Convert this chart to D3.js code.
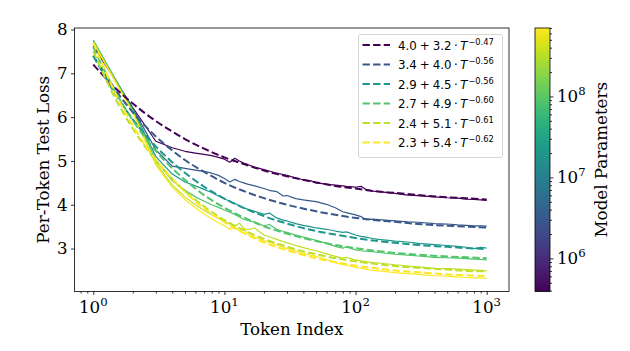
<!DOCTYPE html>
<html>
<head>
<meta charset="utf-8">
<script src="https://cdn.jsdelivr.net/npm/d3@7"></script>
<style>
  body { margin: 0; background: #fff; }
  svg { display: block; }
  text { fill: #000; }
</style>
</head>
<body>
<div id="chart"></div>
<script>
var svgWidth = 630;
var svgHeight = 351;

// per-token loss, measured (solid lines)
var tokens = [1, 2, 3, 4, 5, 6, 7, 8, 9, 10, 11, 12, 13, 14, 15, 17, 20, 22, 25, 28, 30, 35, 40, 45, 50,
  60, 70, 80, 85, 100, 110, 120, 135, 150, 200, 250, 300, 400, 500, 600, 700, 800, 900, 1000];

var lossP1 = [7.62, 6.22, 5.45, 5.30, 5.22, 5.18, 5.15, 5.12, 5.08, 5.04, 4.97, 5.06, 5.00, 4.95, 4.92, 4.86, 4.80, 4.77, 4.72, 4.69, 4.67, 4.61, 4.57, 4.55, 4.50,
  4.47, 4.45, 4.43, 4.42, 4.40, 4.42, 4.35, 4.31, 4.30, 4.26, 4.22, 4.21, 4.18, 4.16, 4.15, 4.13, 4.12, 4.11, 4.10];
var lossP2 = [7.68, 6.20, 5.25, 4.88, 4.83, 4.79, 4.76, 4.72, 4.67, 4.60, 4.52, 4.58, 4.53, 4.50, 4.47, 4.43, 4.37, 4.33, 4.30, 4.20, 4.21, 4.14, 4.11, 4.09, 4.07,
  4.01, 3.93, 3.84, 3.82, 3.77, 3.73, 3.66, 3.67, 3.66, 3.63, 3.61, 3.60, 3.57, 3.56, 3.54, 3.53, 3.52, 3.52, 3.51];
var lossP3 = [7.74, 6.18, 5.10, 4.70, 4.52, 4.43, 4.35, 4.28, 4.20, 4.13, 4.08, 4.03, 3.98, 3.93, 3.90, 3.85, 3.78, 3.81, 3.70, 3.65, 3.63, 3.57, 3.53, 3.50, 3.47,
  3.44, 3.40, 3.37, 3.38, 3.31, 3.28, 3.26, 3.23, 3.21, 3.17, 3.15, 3.12, 3.09, 3.07, 3.05, 3.03, 3.00, 3.03, 3.01];
var lossP4 = [7.76, 6.15, 5.02, 4.55, 4.33, 4.18, 4.08, 4.00, 3.94, 3.88, 3.83, 3.78, 3.72, 3.67, 3.64, 3.60, 3.52, 3.55, 3.44, 3.39, 3.37, 3.31, 3.26, 3.22, 3.19,
  3.12, 3.05, 3.01, 3.04, 2.97, 2.95, 2.94, 2.93, 2.91, 2.87, 2.85, 2.83, 2.80, 2.79, 2.78, 2.77, 2.76, 2.75, 2.74];
var lossP5 = [7.72, 6.12, 4.95, 4.45, 4.18, 4.00, 3.87, 3.77, 3.69, 3.62, 3.56, 3.52, 3.58, 3.46, 3.43, 3.47, 3.31, 3.27, 3.21, 3.16, 3.13, 3.07, 3.02, 2.98, 2.95,
  2.88, 2.82, 2.78, 2.80, 2.74, 2.72, 2.70, 2.68, 2.67, 2.63, 2.60, 2.58, 2.55, 2.54, 2.53, 2.52, 2.51, 2.50, 2.49];
var lossP6 = [7.70, 6.10, 4.90, 4.40, 4.12, 3.93, 3.79, 3.68, 3.59, 3.52, 3.44, 3.50, 3.40, 3.46, 3.33, 3.26, 3.18, 3.14, 3.08, 3.03, 3.00, 2.94, 2.89, 2.85, 2.82,
  2.75, 2.68, 2.63, 2.62, 2.57, 2.55, 2.53, 2.50, 2.49, 2.45, 2.43, 2.41, 2.38, 2.37, 2.35, 2.34, 2.33, 2.33, 2.32];

// power-law fits (dashed lines)
var fitTokens = [1, 1.5, 2, 3, 4, 5, 7, 10, 15, 20, 30, 50, 70, 100, 150, 200, 300, 500, 700, 1000];
var fitP1 = [7.20, 6.64, 6.31, 5.91, 5.67, 5.50, 5.28, 5.08, 4.90, 4.78, 4.65, 4.51, 4.43, 4.37, 4.30, 4.27, 4.22, 4.17, 4.15, 4.12];
var fitP2 = [7.40, 6.59, 6.11, 5.56, 5.24, 5.02, 4.75, 4.50, 4.28, 4.15, 4.00, 3.85, 3.77, 3.70, 3.64, 3.61, 3.56, 3.52, 3.50, 3.48];
var fitP3 = [7.40, 6.49, 5.95, 5.33, 4.97, 4.73, 4.41, 4.14, 3.89, 3.74, 3.57, 3.40, 3.32, 3.24, 3.17, 3.13, 3.08, 3.04, 3.01, 2.99];
var fitP4 = [7.60, 6.54, 5.93, 5.23, 4.83, 4.57, 4.22, 3.93, 3.67, 3.51, 3.34, 3.17, 3.08, 3.01, 2.94, 2.90, 2.86, 2.82, 2.80, 2.78];
var fitP5 = [7.50, 6.38, 5.74, 5.01, 4.59, 4.31, 3.96, 3.65, 3.38, 3.22, 3.04, 2.87, 2.78, 2.71, 2.64, 2.60, 2.56, 2.52, 2.49, 2.48];
var fitP6 = [7.70, 6.50, 5.81, 5.03, 4.59, 4.29, 3.92, 3.60, 3.31, 3.14, 2.96, 2.78, 2.69, 2.61, 2.54, 2.50, 2.46, 2.41, 2.39, 2.37];

// legend text: a + b * T^-c
var fitA = ["4.0", "3.4", "2.9", "2.7", "2.4", "2.3"];
var fitB = ["3.2", "4.0", "4.5", "4.9", "5.1", "5.4"];
var fitC = ["0.47", "0.56", "0.56", "0.60", "0.61", "0.62"];

// model sizes (colour)
var modelParams = [3.9e5, 3.0e6, 2.0e7, 9.0e7, 3.3e8, 7.0e8];

var yTicks = [3, 4, 5, 6, 7, 8];
var xTicks = [1, 10, 100, 1000];
var cbarTicks = [1e6, 1e7, 1e8];

var solidSeries = [lossP1, lossP2, lossP3, lossP4, lossP5, lossP6];
var fitSeries = [fitP1, fitP2, fitP3, fitP4, fitP5, fitP6];

var plot = { left: 74.5, right: 509, top: 28, bottom: 291.5 };
var serif = "'DejaVu Serif', serif";
var sans = "'DejaVu Sans', sans-serif";

var svg = d3.select("#chart")
  .append("svg")
  .attr("width", svgWidth)
  .attr("height", svgHeight);

var xScale = d3.scaleLog()
  .domain([0.719, 1479])
  .range([plot.left, plot.right]);

var yScale = d3.scaleLinear()
  .domain([2.02, 8.034])
  .range([plot.bottom, plot.top]);

var colorScale = d3.scaleLog()
  .domain(d3.extent(modelParams))
  .range([0, 1]);

function colorOf(p) { return d3.interpolateViridis(colorScale(p)); }

svg.append("clipPath").attr("id", "clip")
  .append("rect")
  .attr("x", plot.left).attr("y", plot.top)
  .attr("width", plot.right - plot.left).attr("height", plot.bottom - plot.top);

var lines = svg.append("g").attr("clip-path", "url(#clip)");

var solidLine = d3.line()
  .x(function(d, i) { return xScale(tokens[i]); })
  .y(function(d) { return yScale(d); });

var fitLine = d3.line()
  .x(function(d, i) { return xScale(fitTokens[i]); })
  .y(function(d) { return yScale(d); })
  .curve(d3.curveMonotoneX);

modelParams.forEach(function(p, k) {
  lines.append("path")
    .attr("d", solidLine(solidSeries[k]))
    .attr("fill", "none")
    .attr("stroke", colorOf(p))
    .attr("stroke-width", 1.2)
    .attr("stroke-linejoin", "round");
});
modelParams.forEach(function(p, k) {
  lines.append("path")
    .attr("d", fitLine(fitSeries[k]))
    .attr("fill", "none")
    .attr("stroke", colorOf(p))
    .attr("stroke-width", 2)
    .attr("stroke-dasharray", "7.4,3.2");
});

// Axes
var bottomAxis = d3.axisBottom(xScale)
  .tickValues(xTicks)
  .tickSize(3.5)
  .tickFormat("");
var minorX = [];
[0.1, 1, 10, 100].forEach(function(b) {
  for (var m = 2; m <= 9; m++) {
    var v = b * m;
    if (v > xScale.domain()[0] && v < xScale.domain()[1] && v !== 1) minorX.push(v);
  }
});
var minorAxis = d3.axisBottom(xScale).tickValues(minorX).tickSize(2).tickFormat("");

var gx = svg.append("g").attr("transform", "translate(0," + plot.bottom + ")").call(bottomAxis);
var gxm = svg.append("g").attr("transform", "translate(0," + plot.bottom + ")").call(minorAxis);
var leftAxis = d3.axisLeft(yScale).tickValues(yTicks).tickSize(3.5).tickPadding(3.5)
  .tickFormat(d3.format("d"));
var gy = svg.append("g").attr("transform", "translate(" + plot.left + ",0)").call(leftAxis);

[gx, gxm, gy].forEach(function(g) {
  g.select(".domain").remove();
  g.selectAll(".tick line").attr("stroke", "#000").attr("stroke-width", 0.8);
});
gy.selectAll(".tick text")
  .attr("font-family", serif)
  .attr("font-size", 16.7)
  .attr("fill", "#000");

// x tick labels 10^k
xTicks.forEach(function(t) {
  var lbl = svg.append("text")
    .attr("x", xScale(t))
    .attr("y", 313)
    .attr("text-anchor", "middle")
    .attr("font-family", serif)
    .attr("font-size", 16.7);
  lbl.append("tspan").text("10");
  lbl.append("tspan").attr("dy", -7).attr("font-size", 11.7).text(Math.round(Math.log10(t)));
});

// frame
svg.append("rect")
  .attr("x", plot.left).attr("y", plot.top)
  .attr("width", plot.right - plot.left).attr("height", plot.bottom - plot.top)
  .attr("fill", "none").attr("stroke", "#000").attr("stroke-width", 0.8);

// axis labels
svg.append("text")
  .attr("transform", "translate(49," + ((plot.top + plot.bottom) / 2) + ") rotate(-90)")
  .attr("text-anchor", "middle")
  .attr("font-family", serif)
  .attr("font-size", 16.7)
  .text("Per-Token Test Loss");

svg.append("text")
  .attr("x", (plot.left + plot.right) / 2)
  .attr("y", 335)
  .attr("text-anchor", "middle")
  .attr("font-family", serif)
  .attr("font-size", 16.7)
  .text("Token Index");

// Legend
var legend = svg.append("g");
legend.append("rect")
  .attr("x", 358.5).attr("y", 34.5)
  .attr("width", 144).attr("height", 123)
  .attr("rx", 2)
  .attr("fill", "#fff").attr("fill-opacity", 0.8)
  .attr("stroke", "#cccccc").attr("stroke-width", 0.8);

modelParams.forEach(function(p, k) {
  var cy = 45 + k * 19.5;
  legend.append("line")
    .attr("x1", 362.5).attr("x2", 390)
    .attr("y1", cy).attr("y2", cy)
    .attr("stroke", colorOf(p))
    .attr("stroke-width", 2)
    .attr("stroke-dasharray", "7.4,3.2");
  var t = legend.append("text")
    .attr("x", 398)
    .attr("y", cy + 4.5)
    .attr("font-family", sans)
    .attr("font-size", 11.8);
  t.append("tspan").text(fitA[k]);
  t.append("tspan").attr("dx", 3).text("+");
  t.append("tspan").attr("dx", 3).text(fitB[k]);
  t.append("tspan").attr("dx", 2.5).text("\u00b7");
  t.append("tspan").attr("dx", 2.5).attr("font-style", "italic").text("T");
  t.append("tspan").attr("dy", -5).attr("dx", 1).attr("font-size", 8.3).text("\u2212" + fitC[k]);
});

// Colorbar
var cbar = { x: 535, w: 15 };
var cbScale = d3.scaleLog()
  .domain(d3.extent(modelParams))
  .range([plot.bottom, plot.top]);

var grad = svg.append("defs").append("linearGradient")
  .attr("id", "viridis")
  .attr("x1", 0).attr("y1", 1).attr("x2", 0).attr("y2", 0);
d3.range(0, 1.0001, 0.05).forEach(function(s) {
  grad.append("stop").attr("offset", s).attr("stop-color", d3.interpolateViridis(s));
});
svg.append("rect")
  .attr("x", cbar.x).attr("y", plot.top)
  .attr("width", cbar.w).attr("height", plot.bottom - plot.top)
  .attr("fill", "url(#viridis)")
  .attr("stroke", "#000").attr("stroke-width", 0.8);

var cbMinor = [];
[1e5, 1e6, 1e7, 1e8].forEach(function(b) {
  for (var m = 2; m <= 9; m++) {
    var v = b * m;
    if (v >= cbScale.domain()[0] && v <= cbScale.domain()[1]) cbMinor.push(v);
  }
});
var gcMinor = svg.append("g").attr("transform", "translate(" + (cbar.x + cbar.w) + ",0)")
  .call(d3.axisRight(cbScale).tickValues(cbMinor).tickSize(2).tickFormat(""));
var gcMajor = svg.append("g").attr("transform", "translate(" + (cbar.x + cbar.w) + ",0)")
  .call(d3.axisRight(cbScale).tickValues(cbarTicks).tickSize(3.5).tickFormat(""));
[gcMinor, gcMajor].forEach(function(g) {
  g.select(".domain").remove();
  g.selectAll(".tick line").attr("stroke", "#000").attr("stroke-width", 0.8);
});

cbarTicks.forEach(function(t) {
  var lbl = svg.append("text")
    .attr("x", 557)
    .attr("y", cbScale(t) + 6)
    .attr("font-family", serif)
    .attr("font-size", 16.7);
  lbl.append("tspan").text("10");
  lbl.append("tspan").attr("dy", -7).attr("font-size", 11.7).text(Math.round(Math.log10(t)));
});

svg.append("text")
  .attr("transform", "translate(607," + ((plot.top + plot.bottom) / 2) + ") rotate(-90)")
  .attr("text-anchor", "middle")
  .attr("font-family", serif)
  .attr("font-size", 16.7)
  .text("Model Parameters");
</script>
</body>
</html>
